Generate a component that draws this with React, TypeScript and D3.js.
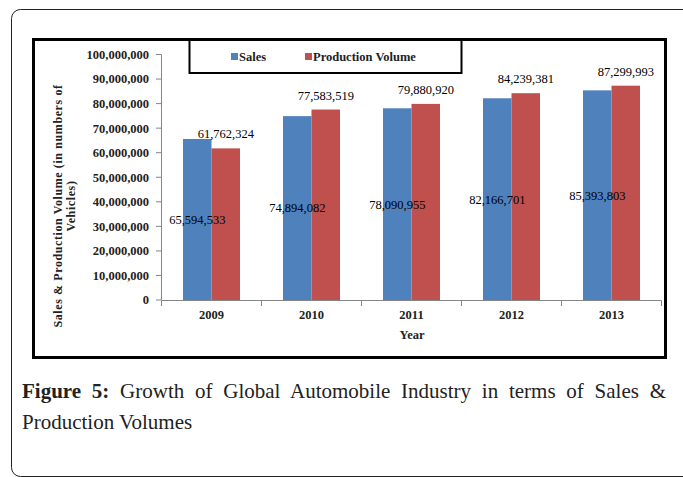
import React from "react";
import * as d3 from "d3";

const years = ["2009", "2010", "2011", "2012", "2013"];
const sales = [65594533, 74894082, 78090955, 82166701, 85393803];
const production = [61762324, 77583519, 79880920, 84239381, 87299993];
const yTicks = [0, 10000000, 20000000, 30000000, 40000000, 50000000, 60000000, 70000000, 80000000, 90000000, 100000000];
const seriesNames = ["Sales", "Production Volume"];
const colors = ["#4F81BD", "#C0504D"];

const W = 683;
const H = 477;
const SERIF = "'Liberation Serif', 'Times New Roman', serif";

export default function App() {
  const x = d3.scaleBand<string>().domain(years).range([161.5, 661.5]).padding(0);
  const y = d3.scaleLinear().domain([0, 100000000]).range([300, 54.5]);
  const fmt = d3.format(",");
  const barW = 28.5;
  const bw = x.bandwidth();

  return (
    <svg width={W} height={H} style={{ position: "absolute", left: 0, top: 0, background: "#fff" }}>
      <rect x={0} y={0} width={W} height={H} fill="#fff" />
      {/* outer rounded frame */}
      <rect x={11.5} y={9.5} width={690} height={467} rx={9} fill="none" stroke="#222" strokeWidth={1} />
      {/* chart box */}
      <rect x={33.5} y={39.5} width={632} height={318} fill="none" stroke="#000" strokeWidth={3} />
      {/* legend box */}
      <rect x={189.5} y={40} width={272} height={33} fill="#fff" stroke="#000" strokeWidth={2} />
      <rect x={231} y={53} width={7} height={7} fill={colors[0]} />
      <text x={239} y={60.5} fontFamily={SERIF} fontWeight="bold" fontSize={12.5} fill="#222">{seriesNames[0]}</text>
      <rect x={305} y={53} width={7} height={7} fill={colors[1]} />
      <text x={313} y={60.5} fontFamily={SERIF} fontWeight="bold" fontSize={12.5} fill="#222">{seriesNames[1]}</text>

      {/* y axis */}
      <line x1={161.5} x2={161.5} y1={y(100000000)} y2={y(0)} stroke="#868686" strokeWidth={1} />
      {yTicks.map((t) => (
        <g key={t}>
          <line x1={156} x2={161.5} y1={y(t)} y2={y(t)} stroke="#868686" strokeWidth={1} />
          <text x={149} y={y(t)} dy="0.35em" textAnchor="end" fontFamily={SERIF} fontWeight="bold" fontSize={12.5} fill="#222">
            {fmt(t)}
          </text>
        </g>
      ))}

      {/* bars */}
      {years.map((yr, i) => {
        const c = (x(yr) as number) + bw / 2;
        return (
          <g key={yr}>
            <rect x={c - barW} y={y(sales[i])} width={barW} height={y(0) - y(sales[i])} fill={colors[0]} />
            <rect x={c} y={y(production[i])} width={barW} height={y(0) - y(production[i])} fill={colors[1]} />
          </g>
        );
      })}

      {/* x axis */}
      <line x1={161.5} x2={661.5} y1={300.5} y2={300.5} stroke="#868686" strokeWidth={1} />
      {[...years.map((yr) => x(yr) as number), 661.5].map((v, i) => (
        <line key={i} x1={v} x2={v} y1={300.5} y2={306} stroke="#868686" strokeWidth={1} />
      ))}
      {years.map((yr) => (
        <text key={yr} x={(x(yr) as number) + bw / 2} y={319} textAnchor="middle" fontFamily={SERIF} fontWeight="bold" fontSize={12.5} fill="#222">
          {yr}
        </text>
      ))}

      {/* data labels */}
      {years.map((yr, i) => {
        const c = (x(yr) as number) + bw / 2;
        return (
          <g key={yr}>
            <text x={c - barW / 2} y={(y(sales[i]) + y(0)) / 2} dy="0.35em" textAnchor="middle" fontFamily={SERIF} fontSize={12.5} fill="#000">
              {fmt(sales[i])}
            </text>
            <text x={c + barW / 2} y={y(production[i]) - 10} textAnchor="middle" fontFamily={SERIF} fontSize={12.5} fill="#000">
              {fmt(production[i])}
            </text>
          </g>
        );
      })}

      {/* axis titles */}
      <text x={412} y={339} textAnchor="middle" fontFamily={SERIF} fontWeight="bold" fontSize={12.5} fill="#222">Year</text>
      <g transform="translate(62,206) rotate(-90)">
        <text x={0} y={0} textAnchor="middle" fontFamily={SERIF} fontWeight="bold" fontSize={12} fill="#222" letterSpacing={0.6}>
          Sales &amp; Production Volume (in numbers of
        </text>
        <text x={0} y={13} textAnchor="middle" fontFamily={SERIF} fontWeight="bold" fontSize={12} fill="#222" letterSpacing={0.6}>
          Vehicles)
        </text>
      </g>

      {/* caption */}
      <text x={22} y={398} fontFamily={SERIF} fontSize={21} fill="#222" wordSpacing={5.5}>
        <tspan fontWeight="bold">Figure 5:</tspan>
        <tspan> Growth of Global Automobile Industry in terms of Sales &amp;</tspan>
      </text>
      <text x={22} y={429} fontFamily={SERIF} fontSize={21} fill="#222">Production Volumes</text>
    </svg>
  );
}
